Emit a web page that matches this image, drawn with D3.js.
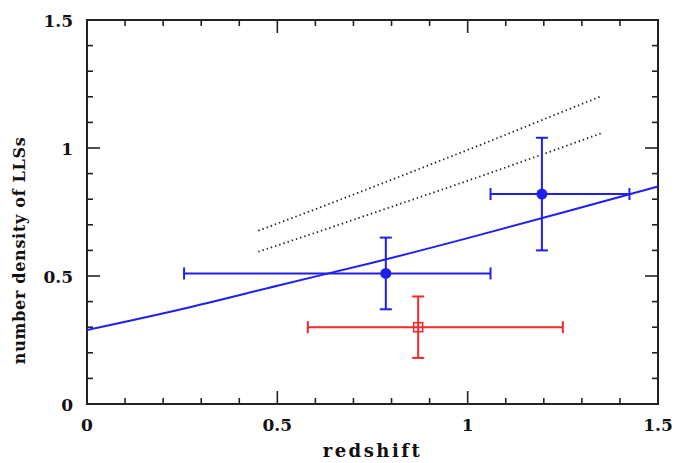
<!DOCTYPE html>
<html>
<head>
<meta charset="utf-8">
<script src="https://cdn.jsdelivr.net/npm/d3@7"></script>
<style>
  body { margin: 0; background: #fff; }
  text { font-family: "DejaVu Serif", serif; font-weight: bold; }
</style>
</head>
<body>
<svg width="687" height="463"></svg>
<script>
// measured points with error bars
const bluePoints = [
  { z: 0.785, n: 0.51, zLo: 0.255, zHi: 1.06, nLo: 0.37, nHi: 0.65 },
  { z: 1.195, n: 0.82, zLo: 1.06, zHi: 1.425, nLo: 0.60, nHi: 1.04 }
];
const redPoints = [
  { z: 0.87, n: 0.30, zLo: 0.58, zHi: 1.25, nLo: 0.18, nHi: 0.42 }
];

// blue fit curve
const fitZ = [0, 0.25, 0.5, 0.75, 1.0, 1.25, 1.5];
const fitN = [0.289, 0.371, 0.462, 0.552, 0.648, 0.748, 0.85];

// dotted curves
const dotZ = [0.45, 0.6, 0.75, 0.9, 1.05, 1.2, 1.35];
const dotUpperN = [0.677, 0.761, 0.847, 0.934, 1.022, 1.112, 1.202];
const dotLowerN = [0.595, 0.669, 0.745, 0.821, 0.898, 0.977, 1.057];

const xTicks = [0, 0.5, 1, 1.5];
const yTicks = [0, 0.5, 1, 1.5];

const svg = d3.select("svg");
const pLeft = 87, pRight = 658, pTop = 20, pBottom = 404;

const x = d3.scaleLinear().domain([0, 1.5]).range([pLeft, pRight]);
const y = d3.scaleLinear().domain([0, 1.5]).range([pBottom, pTop]);

const minor = d3.range(0, 1.5001, 0.1);

// ticks on all four sides
const tickG = svg.append("g").attr("stroke", "#222").attr("stroke-width", 1.6);
minor.forEach(v => {
  const major = Math.abs(v * 2 - Math.round(v * 2)) < 1e-6;
  const len = major ? 13 : 6;
  tickG.append("line").attr("x1", x(v)).attr("x2", x(v)).attr("y1", pBottom).attr("y2", pBottom - len);
  tickG.append("line").attr("x1", x(v)).attr("x2", x(v)).attr("y1", pTop).attr("y2", pTop + len);
  tickG.append("line").attr("y1", y(v)).attr("y2", y(v)).attr("x1", pLeft).attr("x2", pLeft + len);
  tickG.append("line").attr("y1", y(v)).attr("y2", y(v)).attr("x1", pRight).attr("x2", pRight - len);
});

svg.append("rect")
  .attr("x", pLeft).attr("y", pTop)
  .attr("width", pRight - pLeft).attr("height", pBottom - pTop)
  .attr("fill", "none").attr("stroke", "#222").attr("stroke-width", 2);

// tick labels
svg.append("g").selectAll("text").data(xTicks).enter().append("text")
  .attr("x", d => x(d)).attr("y", pBottom + 27)
  .attr("text-anchor", "middle").style("font-size", "17px").attr("fill", "#111")
  .text(d => d3.format("")(d));

svg.append("g").selectAll("text").data(yTicks).enter().append("text")
  .attr("x", pLeft - 14).attr("y", d => y(d) + 7)
  .attr("text-anchor", "end").style("font-size", "17px").attr("fill", "#111")
  .text(d => d3.format("")(d));

// axis titles
svg.append("text")
  .attr("x", x(0.75)).attr("y", 457)
  .attr("text-anchor", "middle").style("font-size", "18px")
  .style("letter-spacing", "2.5px").attr("fill", "#111")
  .text("redshift");

svg.append("text")
  .attr("transform", "translate(25," + y(0.6) + ") rotate(-90)")
  .attr("text-anchor", "middle").style("font-size", "16px")
  .style("letter-spacing", "0.7px").attr("fill", "#111")
  .text("number density of LLSs");

const plot = svg.append("g");
plot.append("clipPath").attr("id", "clip").append("rect")
  .attr("x", pLeft).attr("y", pTop).attr("width", pRight - pLeft).attr("height", pBottom - pTop);

const line = d3.line().x(d => x(d[0])).y(d => y(d[1])).curve(d3.curveNatural);

// dotted curves
[dotUpperN, dotLowerN].forEach(arr => {
  plot.append("path")
    .datum(dotZ.map((z, i) => [z, arr[i]]))
    .attr("d", line)
    .attr("fill", "none").attr("stroke", "#222")
    .attr("stroke-width", 1.8).attr("stroke-dasharray", "1.4,3");
});

// blue fit
plot.append("path")
  .datum(fitZ.map((z, i) => [z, fitN[i]]))
  .attr("d", line)
  .attr("clip-path", "url(#clip)")
  .attr("fill", "none").attr("stroke", "#1f1fee").attr("stroke-width", 2);

function errorBars(data, color) {
  const g = plot.append("g").attr("stroke", color).attr("stroke-width", 2).attr("fill", "none");
  data.forEach(d => {
    g.append("line").attr("x1", x(d.zLo)).attr("x2", x(d.zHi)).attr("y1", y(d.n)).attr("y2", y(d.n));
    g.append("line").attr("x1", x(d.z)).attr("x2", x(d.z)).attr("y1", y(d.nLo)).attr("y2", y(d.nHi));
    g.append("line").attr("x1", x(d.zLo)).attr("x2", x(d.zLo)).attr("y1", y(d.n) - 6).attr("y2", y(d.n) + 6);
    g.append("line").attr("x1", x(d.zHi)).attr("x2", x(d.zHi)).attr("y1", y(d.n) - 6).attr("y2", y(d.n) + 6);
    g.append("line").attr("x1", x(d.z) - 6).attr("x2", x(d.z) + 6).attr("y1", y(d.nLo)).attr("y2", y(d.nLo));
    g.append("line").attr("x1", x(d.z) - 6).attr("x2", x(d.z) + 6).attr("y1", y(d.nHi)).attr("y2", y(d.nHi));
  });
  return g;
}

errorBars(bluePoints, "#1f1fee");
plot.selectAll(".bdot").data(bluePoints).enter().append("circle")
  .attr("cx", d => x(d.z)).attr("cy", d => y(d.n)).attr("r", 5.5).attr("fill", "#1f1fee");

errorBars(redPoints, "#ee2a2a");
plot.selectAll(".rsq").data(redPoints).enter().append("rect")
  .attr("x", d => x(d.z) - 4.5).attr("y", d => y(d.n) - 4.5)
  .attr("width", 9).attr("height", 9)
  .attr("fill", "none").attr("stroke", "#ee2a2a").attr("stroke-width", 1.6);
</script>
</body>
</html>
